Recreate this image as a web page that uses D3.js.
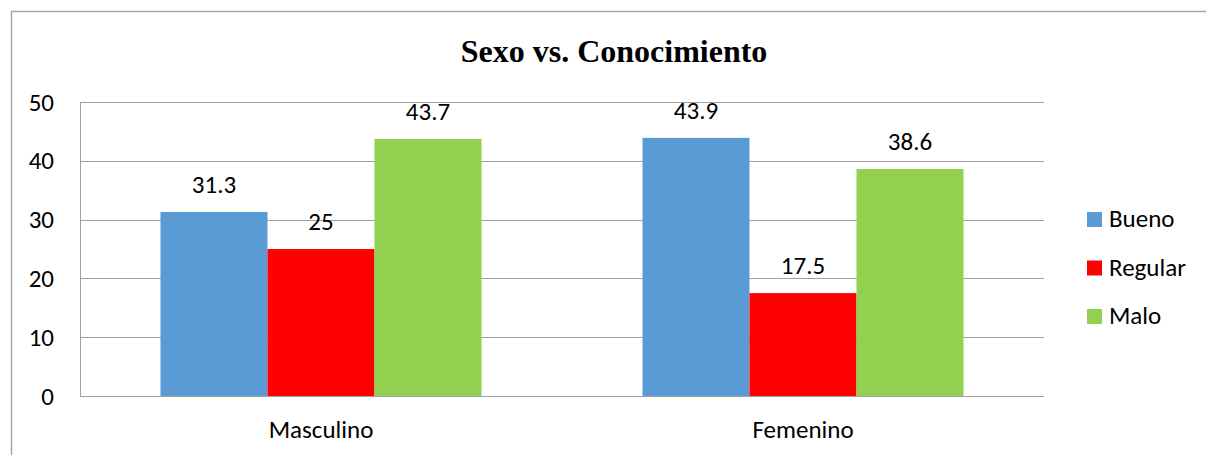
<!DOCTYPE html>
<html>
<head>
<meta charset="utf-8">
<script src="https://cdn.jsdelivr.net/npm/d3@7"></script>
<style>
    body { margin: 0; background: #fff; }
    svg { display: block; }
</style>
</head>
<body>
<svg id="chart" width="1206" height="455"></svg>
<script>
const categories = ["Masculino", "Femenino"];
const series = ["Bueno", "Regular", "Malo"];
const bueno = [31.3, 43.9];
const regular = [25, 17.5];
const malo = [43.7, 38.6];
const yTicks = [0, 10, 20, 30, 40, 50];
const colors = ["#5b9bd5", "#ff0000", "#92d050"];

const values = [bueno, regular, malo];
const data = categories.map((c, i) => ({
    category: c,
    items: series.map((s, j) => ({ key: s, value: values[j][i] }))
}));

const font = "Carlito, Calibri, Lato, sans-serif";
const fontSize = "25px";
const svg = d3.select("#chart");
const margin = { top: 102, left: 80, right: 162, bottom: 59 };
const width = +svg.attr("width") - margin.left - margin.right;
const height = +svg.attr("height") - margin.top - margin.bottom;

// outer chart border (only top and left show)
svg.append("rect")
    .attr("x", 11.5).attr("y", 11.5)
    .attr("width", 1300).attr("height", 600)
    .attr("fill", "none")
    .attr("stroke", "#a6a6a6")
    .attr("stroke-width", 1.5);

const x0 = d3.scaleBand()
    .domain(categories)
    .range([0, width])
    .paddingInner(0.334)
    .paddingOuter(0.167);

const x1 = d3.scaleBand()
    .domain(series)
    .range([0, x0.bandwidth()]);

const y = d3.scaleLinear()
    .domain([0, 50])
    .range([height, 0]);

const g = svg.append("g")
    .attr("transform", `translate(${margin.left},${margin.top})`);

// gridlines
g.append("g")
    .selectAll("line")
    .data(yTicks)
    .enter().append("line")
    .attr("x1", 0).attr("x2", width)
    .attr("y1", d => Math.round(y(d)) + 0.5)
    .attr("y2", d => Math.round(y(d)) + 0.5)
    .attr("stroke", "#a0a0a0")
    .attr("stroke-width", 1);

// y axis
g.append("g")
    .attr("class", "axis axis-y")
    .call(d3.axisLeft(y).tickValues(yTicks).tickSize(0).tickPadding(26))
    .call(g => g.select(".domain").attr("stroke", "#a0a0a0").attr("d", `M0.5,0V${height}`))
    .call(g => g.selectAll(".tick text")
        .style("font-family", font)
        .style("font-size", fontSize)
        .style("fill", "#000"));

// bars
const groups = g.selectAll(".group")
    .data(data)
    .enter().append("g")
    .attr("transform", d => `translate(${x0(d.category)},0)`);

groups.selectAll("rect")
    .data(d => d.items)
    .enter().append("rect")
    .attr("x", d => x1(d.key))
    .attr("y", d => y(d.value))
    .attr("width", x1.bandwidth())
    .attr("height", d => height - y(d.value))
    .attr("fill", (d, i) => colors[i]);

// value labels
groups.selectAll(".label")
    .data(d => d.items)
    .enter().append("text")
    .attr("class", "label")
    .attr("x", d => x1(d.key) + x1.bandwidth() / 2)
    .attr("y", d => y(d.value) - 19)
    .attr("text-anchor", "middle")
    .style("font-family", font)
    .style("font-size", fontSize)
    .text(d => d.value);

// x axis
g.append("g")
    .attr("class", "axis axis-x")
    .attr("transform", `translate(0,${height})`)
    .call(d3.axisBottom(x0).tickSize(0).tickPadding(24))
    .call(g => g.select(".domain").remove())
    .call(g => g.selectAll(".tick text")
        .style("font-family", font)
        .style("font-size", fontSize)
        .style("fill", "#000"));

// legend
const legend = svg.append("g")
    .attr("transform", "translate(1087,212)");

const li = legend.selectAll("g")
    .data(series)
    .enter().append("g")
    .attr("transform", (d, i) => `translate(0,${i * 48.5})`);

li.append("rect")
    .attr("width", 15).attr("height", 15)
    .attr("fill", (d, i) => colors[i]);

li.append("text")
    .attr("x", 22)
    .attr("y", 15)
    .style("font-family", font)
    .style("font-size", fontSize)
    .text(d => d);

// title
svg.append("text")
    .attr("x", 614)
    .attr("y", 62)
    .attr("text-anchor", "middle")
    .style("font-family", "'Liberation Serif', 'Times New Roman', serif")
    .style("font-weight", "bold")
    .style("font-size", "32px")
    .text("Sexo vs. Conocimiento");
</script>
</body>
</html>
